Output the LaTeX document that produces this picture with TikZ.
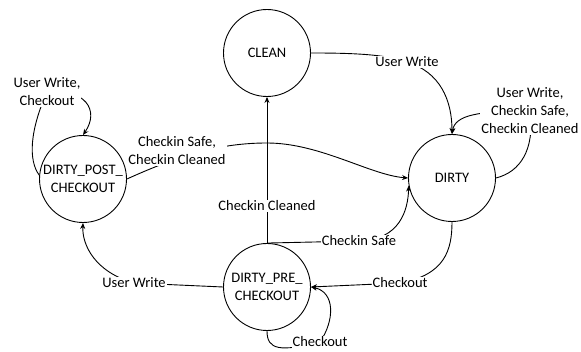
\documentclass[tikz,border=0pt]{standalone}
\usepackage{fontspec}
\setmainfont{Carlito}
\usetikzlibrary{arrows.meta}
\begin{document}
\begin{tikzpicture}[x=1pt,y=-1pt,
  every node/.style={font=\fontsize{14.5}{18}\selectfont},
  state/.style={circle,draw,line width=0.9pt,minimum size=87pt,inner sep=0pt,align=center},
  lbl/.style={fill=white,inner sep=1pt,align=center},
  edge/.style={line width=0.9pt},
  arr/.style={edge,-{Stealth[length=6pt,width=5pt]}}]
\useasboundingbox (0,0) rectangle (581,352);

% states
\node[state] (clean) at (267,53) {CLEAN};
\node[state] (dirty) at (452,178) {DIRTY};
\node[state] (dpc)   at (83,179)  {DIRTY\_POST\_\\CHECKOUT};
\node[state] (dpre)  at (267,287) {DIRTY\_PRE\_\\CHECKOUT};

% label anchors (labels are drawn last, on top of the connectors)
\coordinate (lcw) at (407,62);
\coordinate (ldl) at (530,111);
\coordinate (ldp) at (47,92);
\coordinate (lsc) at (177,151);
\coordinate (lcs) at (359,241);
\coordinate (luw) at (134,283);
\coordinate (lco) at (400,283);
\coordinate (lck) at (320,342);
\coordinate (top) at (267,143);

% transitions
\draw[arr] (clean.east) .. controls (350,53) and (385,54) .. (lcw)
           .. controls (440,72) and (452,100) .. (dirty.north);
\draw[arr] (dirty.east) .. controls (520,172) and (535,150) .. (ldl)
           .. controls (478,111) and (455,115) .. (dirty.north);
\draw[arr] (dpc.175) .. controls (28,160) and (30,130) .. (ldp)
           .. controls (85,88) and (100,110) .. (dpc.north);
\draw[arr] (dpc.east) .. controls (180,155) and (220,143) .. (top)
           .. controls (320,143) and (370,175) .. (dirty.west);
\draw[arr] (dpre.north) -- (clean.south);
\draw[arr] (dpre.north) -- (lcs)
           .. controls (400,240) and (408,210) .. (dirty.190);
\draw[arr] (dpre.west) -- (luw)
           .. controls (95,272) and (82,245) .. (dpc.south);
\draw[arr] (dirty.south) .. controls (452,250) and (445,275) .. (lco)
           -- (dpre.east);
\draw[arr] (dpre.south) .. controls (267,350) and (280,352) .. (lck)
           .. controls (335,320) and (335,292) .. (dpre.east);

% transition labels
\node[lbl] (tcw) at (lcw) {User Write};
\node[lbl] (tdl) at (ldl) {User Write,\\Checkin Safe,\\Checkin Cleaned};
\node[lbl] (tdp) at (ldp) {User Write,\\Checkout};
\node[lbl] (tsc) at (lsc) {Checkin Safe,\\Checkin Cleaned};
\node[lbl] (tcc) at (267,206) {Checkin Cleaned};
\node[lbl] (tcs) at (lcs) {Checkin Safe};
\node[lbl] (tuw) at (luw) {User Write};
\node[lbl] (tco) at (lco) {Checkout};
\node[lbl] (tck) at (lck) {Checkout};
\end{tikzpicture}
\end{document}
